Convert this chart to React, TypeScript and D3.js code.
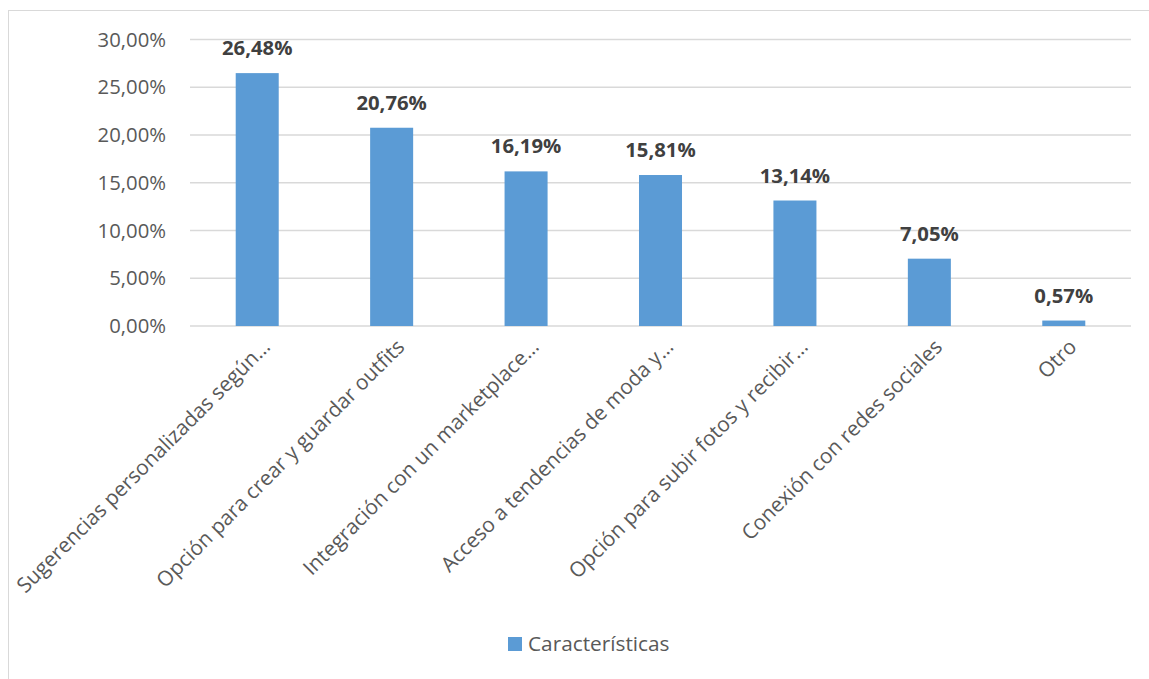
import React from "react";
import * as d3 from "d3";

const categories = [
  "Sugerencias personalizadas según…",
  "Opción para crear y guardar outfits",
  "Integración con un marketplace…",
  "Acceso a tendencias de moda y…",
  "Opción para subir fotos y recibir…",
  "Conexión con redes sociales",
  "Otro",
];
const values = [26.48, 20.76, 16.19, 15.81, 13.14, 7.05, 0.57];
const yTicks = [0, 5, 10, 15, 20, 25, 30];
const seriesName = "Características";

const W = 1149;
const H = 679;
const FONT = "'Open Sans', sans-serif";

export default function App() {
  const left = 190, right = 1131, top = 39.5, bottom = 326;
  const x = d3.scaleBand<string>().domain(categories).range([left, right]).paddingInner(0.68).paddingOuter(0.34);
  const y = d3.scaleLinear().domain([0, 30]).range([bottom, top]);
  const fmt = (v: number) => v.toFixed(2).replace(".", ",") + "%";
  return (
    <svg width={W} height={H} style={{ position: "absolute", left: 0, top: 0 }} fontFamily={FONT}>
      <rect x={0} y={0} width={W} height={H} fill="#fff" />
      <rect x={8.5} y={10.5} width={W + 10} height={H + 10} fill="none" stroke="#d9d9d9" strokeWidth={1} />
      {yTicks.map((t) => (
        <g key={t}>
          <line x1={left} x2={right} y1={y(t)} y2={y(t)} stroke="#d9d9d9" strokeWidth={1.3} />
          <text x={166} y={y(t)} dy="0.35em" textAnchor="end" fontSize={20.3} fill="#595959">
            {fmt(t)}
          </text>
        </g>
      ))}
      {categories.map((c, i) => {
        const bx = x(c)!;
        const bw = x.bandwidth();
        const cx = bx + bw / 2;
        return (
          <g key={c}>
            <rect x={bx} y={y(values[i])} width={bw} height={bottom - y(values[i])} fill="#5b9bd5" />
            <text x={cx} y={y(values[i]) - 18} textAnchor="middle" fontSize={20.3} fontWeight="bold" fill="#404040">
              {fmt(values[i])}
            </text>
            <text
              transform={`translate(${cx + 9},${343}) rotate(-45)`}
              textAnchor="end"
              dy="0.35em"
              fontSize={20.8}
              fill="#595959"
            >
              {c}
            </text>
          </g>
        );
      })}
      <rect x={508} y={637} width={14} height={14} fill="#5b9bd5" />
      <text x={528} y={644} dy="0.35em" fontSize={20.8} fill="#595959">
        {seriesName}
      </text>
    </svg>
  );
}
